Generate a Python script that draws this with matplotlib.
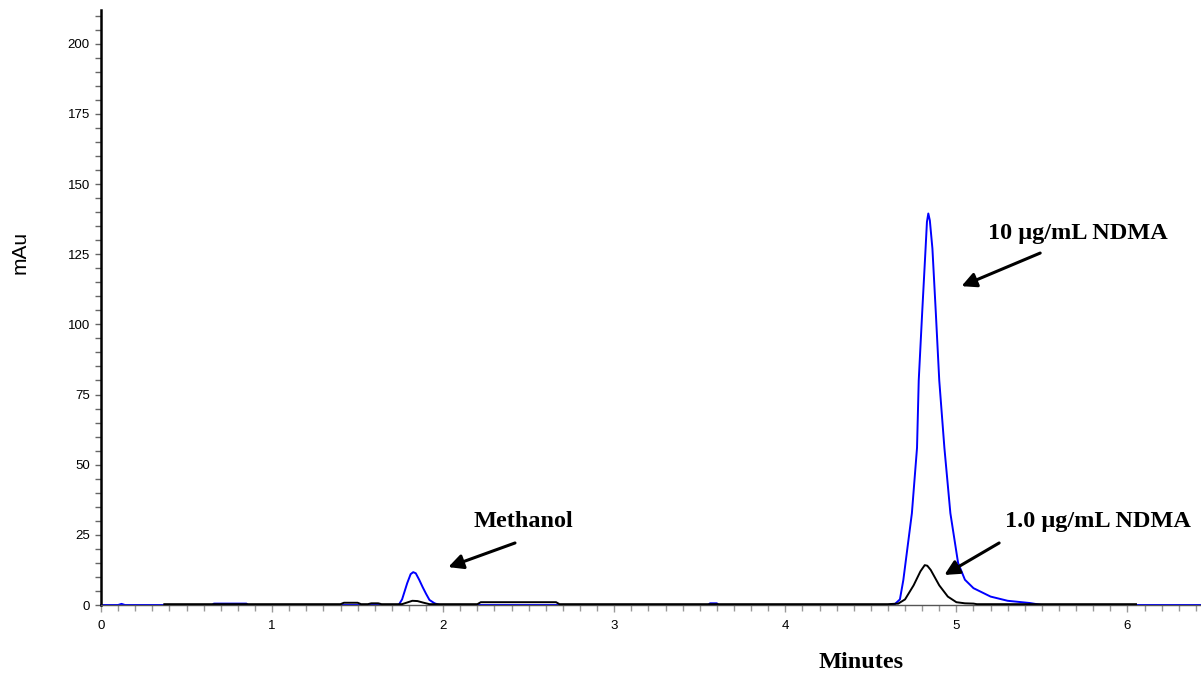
import matplotlib
matplotlib.use("Agg")
import matplotlib.pyplot as plt
from matplotlib.ticker import MultipleLocator

# 10 ug/mL NDMA trace (blue)
blue_t = [0.0, 0.10, 0.12, 0.14, 0.50, 0.65, 0.66, 0.85, 0.86, 1.50,
          1.74, 1.76, 1.79, 1.81, 1.825, 1.84, 1.86, 1.88, 1.90, 1.92,
          1.95, 1.98, 2.50, 3.55, 3.56, 3.60, 3.61, 4.60, 4.64, 4.67,
          4.69, 4.74, 4.77, 4.78, 4.80, 4.82, 4.828, 4.836, 4.845, 4.86,
          4.88, 4.90, 4.93, 4.965, 5.01, 5.05, 5.10, 5.20, 5.30, 5.43,
          5.50, 6.43]
blue_v = [0.0, 0.0, 0.4, 0.0, 0.0, 0.0, 0.5, 0.5, 0.0, 0.0,
          0.0, 2.0, 7.8, 11.0, 11.7, 11.3, 9.0, 6.4, 4.0, 1.8,
          0.6, 0.0, 0.0, 0.0, 0.6, 0.6, 0.0, 0.0, 0.3, 2.0,
          8.9, 32.7, 56.0, 80.0, 104.0, 127.0, 136.5, 139.5, 137.0, 127.0,
          104.0, 80.0, 56.0, 32.7, 15.0, 9.0, 6.0, 3.0, 1.5, 0.7,
          0.0, 0.0]

# 1.0 ug/mL NDMA trace (black)
black_t = [0.37, 1.40, 1.42, 1.50, 1.52, 1.56, 1.58, 1.62, 1.64, 1.76,
           1.79, 1.82, 1.85, 1.88, 1.92, 1.95, 2.20, 2.22, 2.66, 2.68,
           4.60, 4.66, 4.70, 4.75, 4.79, 4.815, 4.83, 4.85, 4.90, 4.95,
           5.00, 5.05, 5.10, 5.12, 6.05]
black_v = [0.3, 0.3, 0.8, 0.8, 0.3, 0.3, 0.6, 0.6, 0.3, 0.3,
           0.9, 1.5, 1.4, 0.9, 0.3, 0.3, 0.3, 1.0, 1.0, 0.3,
           0.3, 0.5, 2.0, 7.0, 12.0, 14.2, 14.0, 12.5, 7.0, 3.0,
           1.0, 0.6, 0.5, 0.3, 0.3]

x_ticks = [0, 1, 2, 3, 4, 5, 6]
y_ticks = [0, 25, 50, 75, 100, 125, 150, 175, 200]

fig = plt.figure(figsize=(12.01, 6.76), dpi=100)
ax = fig.add_axes([101 / 1201, 71 / 676, 1100 / 1201, 595 / 676])

ax.plot(black_t, black_v, color="black", lw=1.4, clip_on=False, zorder=3)
ax.plot(blue_t, blue_v, color="#0000ff", lw=1.4, clip_on=False, zorder=2)

ax.set_xlim(0, 6.43)
ax.set_ylim(0, 212)

for side in ("top", "right"):
    ax.spines[side].set_visible(False)
ax.spines["left"].set_linewidth(1.8)
ax.spines["left"].set_color("black")
ax.spines["bottom"].set_linewidth(1.0)
ax.spines["bottom"].set_color("#555555")

ax.set_xticks(x_ticks)
ax.set_yticks(y_ticks)
ax.xaxis.set_minor_locator(MultipleLocator(0.1))
ax.yaxis.set_minor_locator(MultipleLocator(5))
ax.tick_params(axis="x", which="both", direction="out", color="#999999",
               length=4, width=1, labelsize=9.5, pad=6)
ax.tick_params(axis="x", which="major", length=5)
ax.tick_params(axis="y", which="both", direction="out", color="#666666",
               length=4, width=1, labelsize=9.5, pad=4)
for lab in ax.get_xticklabels() + ax.get_yticklabels():
    lab.set_family("Liberation Sans")

bold_serif = dict(family="Liberation Serif", weight="bold", fontsize=17.5)
arrow = dict(arrowstyle="-|>", color="black", lw=2.2, mutation_scale=22,
             shrinkA=0, shrinkB=0)

ax.text(5.71, 132.5, "10 μg/mL NDMA", ha="center", va="center", **bold_serif)
ax.annotate("", xy=(5.03, 113.6), xytext=(5.49, 125.4), arrowprops=arrow)

ax.text(5.83, 29.6, "1.0 μg/mL NDMA", ha="center", va="center",
        clip_on=False, **bold_serif)
ax.annotate("", xy=(4.93, 10.7), xytext=(5.25, 22.1), arrowprops=arrow)

ax.text(2.47, 29.6, "Methanol", ha="center", va="center", **bold_serif)
ax.annotate("", xy=(2.03, 13.5), xytext=(2.42, 22.1), arrowprops=arrow)

fig.text(861 / 1201, 1 - 663 / 676, "Minutes", ha="center", va="center",
         **bold_serif)
fig.text(20 / 1201, 1 - 252 / 676, "mAu", ha="center", va="center",
         rotation=90, family="Liberation Sans", fontsize=15)

fig.savefig("out.png", dpi=100)
